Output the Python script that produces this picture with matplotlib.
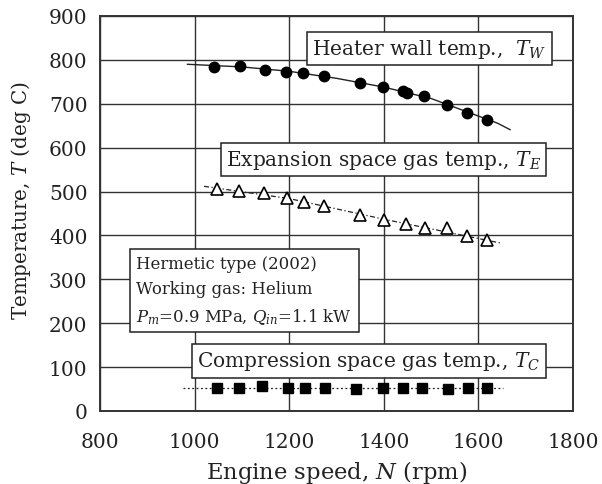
import matplotlib
matplotlib.use("Agg")
import matplotlib.pyplot as plt

# Measured temperatures vs engine speed
speed_w = [1042, 1095, 1148, 1193, 1229, 1273, 1349, 1398, 1440, 1450, 1485, 1533, 1575, 1618]
temp_w = [783, 785, 777, 773, 771, 764, 747, 738, 729, 725, 717, 698, 679, 664]

speed_e = [1047, 1094, 1146, 1195, 1231, 1273, 1349, 1400, 1447, 1487, 1534, 1575, 1619]
temp_e = [505, 502, 496, 485, 477, 466, 447, 436, 427, 417, 417, 399, 390]

speed_c = [1047, 1094, 1143, 1197, 1233, 1275, 1342, 1398, 1441, 1480, 1536, 1578, 1619]
temp_c = [52, 52, 57, 52, 52, 52, 50, 52, 52, 52, 50, 52, 52]

# Trend lines
trend_w_x = [985, 1100, 1200, 1300, 1400, 1500, 1600, 1640, 1667]
trend_w_y = [790, 784, 774, 758, 738, 712, 672, 656, 641]
trend_e_x = [1020, 1200, 1400, 1650]
trend_e_y = [512, 484, 437, 382]
trend_c_x = [975, 1652]
trend_c_y = [52, 52]

x_ticks = [800, 1000, 1200, 1400, 1600, 1800]
y_ticks = [0, 100, 200, 300, 400, 500, 600, 700, 800, 900]

plt.rcParams['font.family'] = ['DejaVu Serif']
plt.rcParams['mathtext.fontset'] = 'dejavuserif'

fig = plt.figure(figsize=(6.02, 4.85), dpi=100)
ax = fig.add_axes([100 / 602, 1 - 412 / 485, 473 / 602, 395 / 485])

ax.plot(trend_w_x, trend_w_y, '-', color='#222222', lw=1.0, zorder=3)
ax.plot(trend_e_x, trend_e_y, color='#222222', lw=0.9, linestyle=(0, (4, 2, 1, 2)), zorder=3)
ax.plot(trend_c_x, trend_c_y, color='#222222', lw=0.9, linestyle=(0, (1.5, 2)), zorder=3)

ax.plot(speed_w, temp_w, 'o', color='black', ms=7.5, zorder=4)
ax.plot(speed_e, temp_e, '^', mfc='white', mec='black', mew=1.2, ms=9, zorder=4)
ax.plot(speed_c, temp_c, 's', color='black', ms=6.5, zorder=4)

ax.set_xlim(800, 1800)
ax.set_ylim(0, 900)
ax.set_xticks(x_ticks)
ax.set_yticks(y_ticks)
ax.grid(True, color='#333333', lw=1.0)
ax.set_axisbelow(True)
ax.tick_params(length=0, labelsize=14.5, colors='#222222')
ax.tick_params(axis='y', pad=9)
ax.tick_params(axis='x', pad=15)
for s in ax.spines.values():
    s.set_linewidth(1.4)
    s.set_color('#333333')

ax.set_xlabel('Engine speed, $N$ (rpm)', fontsize=16.3, color='#222222', labelpad=5)
ax.set_ylabel('Temperature, $T$ (deg C)', fontsize=14.3, color='#222222')
ax.yaxis.set_label_coords(-0.142, 0.535)

box = dict(boxstyle='square,pad=0.25', fc='white', ec='#222222', lw=1.1)
ax.text(1249, 825, 'Heater wall temp.,  $T_W$', fontsize=14.5, va='center', ha='left',
        color='#222222', bbox=box, zorder=5)
ax.text(1066, 572, 'Expansion space gas temp., $T_E$', fontsize=14.5, va='center', ha='left',
        color='#222222', bbox=box, zorder=5)
ax.text(1006, 114, 'Compression space gas temp., $T_C$', fontsize=14.5, va='center', ha='left',
        color='#222222', bbox=box, zorder=5)
ax.text(877, 275, 'Hermetic type (2002)\nWorking gas: Helium\n$P_m$=0.9 MPa, $Q_{in}$=1.1 kW',
        fontsize=11.9, va='center', ha='left', color='#222222', linespacing=1.6,
        bbox=dict(boxstyle='square,pad=0.4', fc='white', ec='#222222', lw=1.1), zorder=5)

fig.savefig('out.png', dpi=100)
